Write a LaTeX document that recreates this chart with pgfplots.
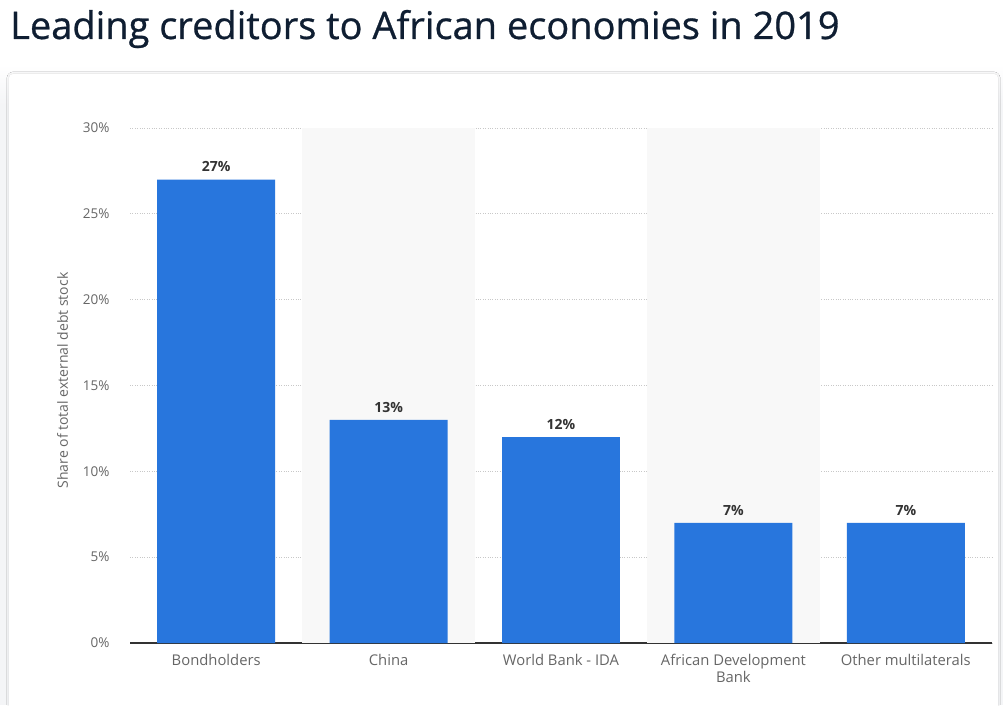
\documentclass[border=0pt]{standalone}
\usepackage{fontspec}
\setmainfont{Open Sans}
\newfontfamily\titlefont{Open Sans}[FakeBold=0.7]
\usepackage{pgfplots}
\pgfplotsset{compat=1.18}
\usetikzlibrary{shadows.blur}

\definecolor{barblue}{HTML}{2876DD}
\definecolor{titlecol}{HTML}{0F1E32}
\definecolor{bandgray}{HTML}{F8F8F8}
\definecolor{gridgray}{HTML}{C8C8C8}
\definecolor{ticktext}{HTML}{666666}
\definecolor{valtext}{HTML}{333333}
\definecolor{pagebg}{HTML}{F4F5F7}

\begin{document}
\begin{tikzpicture}[x=1pt,y=1pt]
\useasboundingbox (0,0) rectangle (1003,705);
% page background and card
\fill[white] (0,0) rectangle (1003,705);
\shade[top color=white, bottom color=pagebg] (0,600) rectangle (1003,640);
\fill[pagebg] (0,0) rectangle (1003,600);
\fill[white, rounded corners=4pt, blur shadow={shadow blur steps=6, shadow xshift=0pt, shadow yshift=0pt, shadow opacity=15, shadow blur extra rounding=2pt}]
  (9,-10) rectangle (998,631);

% title
\node[anchor=base west, inner sep=0pt, text=titlecol, font=\titlefont\fontsize{38}{40}\selectfont] at (10,666) {Leading creditors to African economies in 2019};

\begin{axis}[
  scale only axis,
  width=862pt, height=515pt,
  at={(130pt,62pt)}, anchor=south west,
  xmin=-0.5, xmax=4.5,
  ymin=0, ymax=30,
  ytick={0,5,10,15,20,25,30},
  xtick={0,1,2,3,4},
  xticklabels={Bondholders, China, World Bank - IDA, {African Development\\Bank}, Other multilaterals},
  xticklabel style={align=center, text=ticktext, font=\fontsize{14.8}{17}\selectfont, yshift=-8pt},
  yticklabel={\pgfmathprintnumber{\tick}\%},
  yticklabel style={text=ticktext, font=\fontsize{13.5}{14}\selectfont, xshift=-17pt},
  /pgf/number format/assume math mode=true,
  major tick length=0pt,
  axis x line*=bottom,
  axis y line*=left,
  y axis line style={draw=none},
  x axis line style={draw=valtext, line width=1.5pt, -},
  ymajorgrids,
  grid style={gridgray, dotted, line width=0.8pt},
  ylabel={Share of total external debt stock},
  ylabel style={text=ticktext, font=\fontsize{14}{15}\selectfont},
  % label is rotated: xshift moves it up, yshift moves it left
  every axis y label/.append style={at={(ticklabel cs:0.5)}, xshift=5pt, yshift=8pt},
  ybar,
  bar width=0.684,
  clip=false,
]
\fill[bandgray] (axis cs:0.5,0) rectangle (axis cs:1.5,30);
\fill[bandgray] (axis cs:2.5,0) rectangle (axis cs:3.5,30);
\addplot[
  fill=barblue, draw=none,
  nodes near coords={\pgfmathprintnumber{\pgfplotspointmeta}\%},
  every node near coord/.append style={text=valtext, font=\bfseries\fontsize{14}{15}\selectfont, yshift=4pt},
] coordinates {(0,27) (1,13) (2,12) (3,7) (4,7)};
\end{axis}
\end{tikzpicture}
\end{document}
